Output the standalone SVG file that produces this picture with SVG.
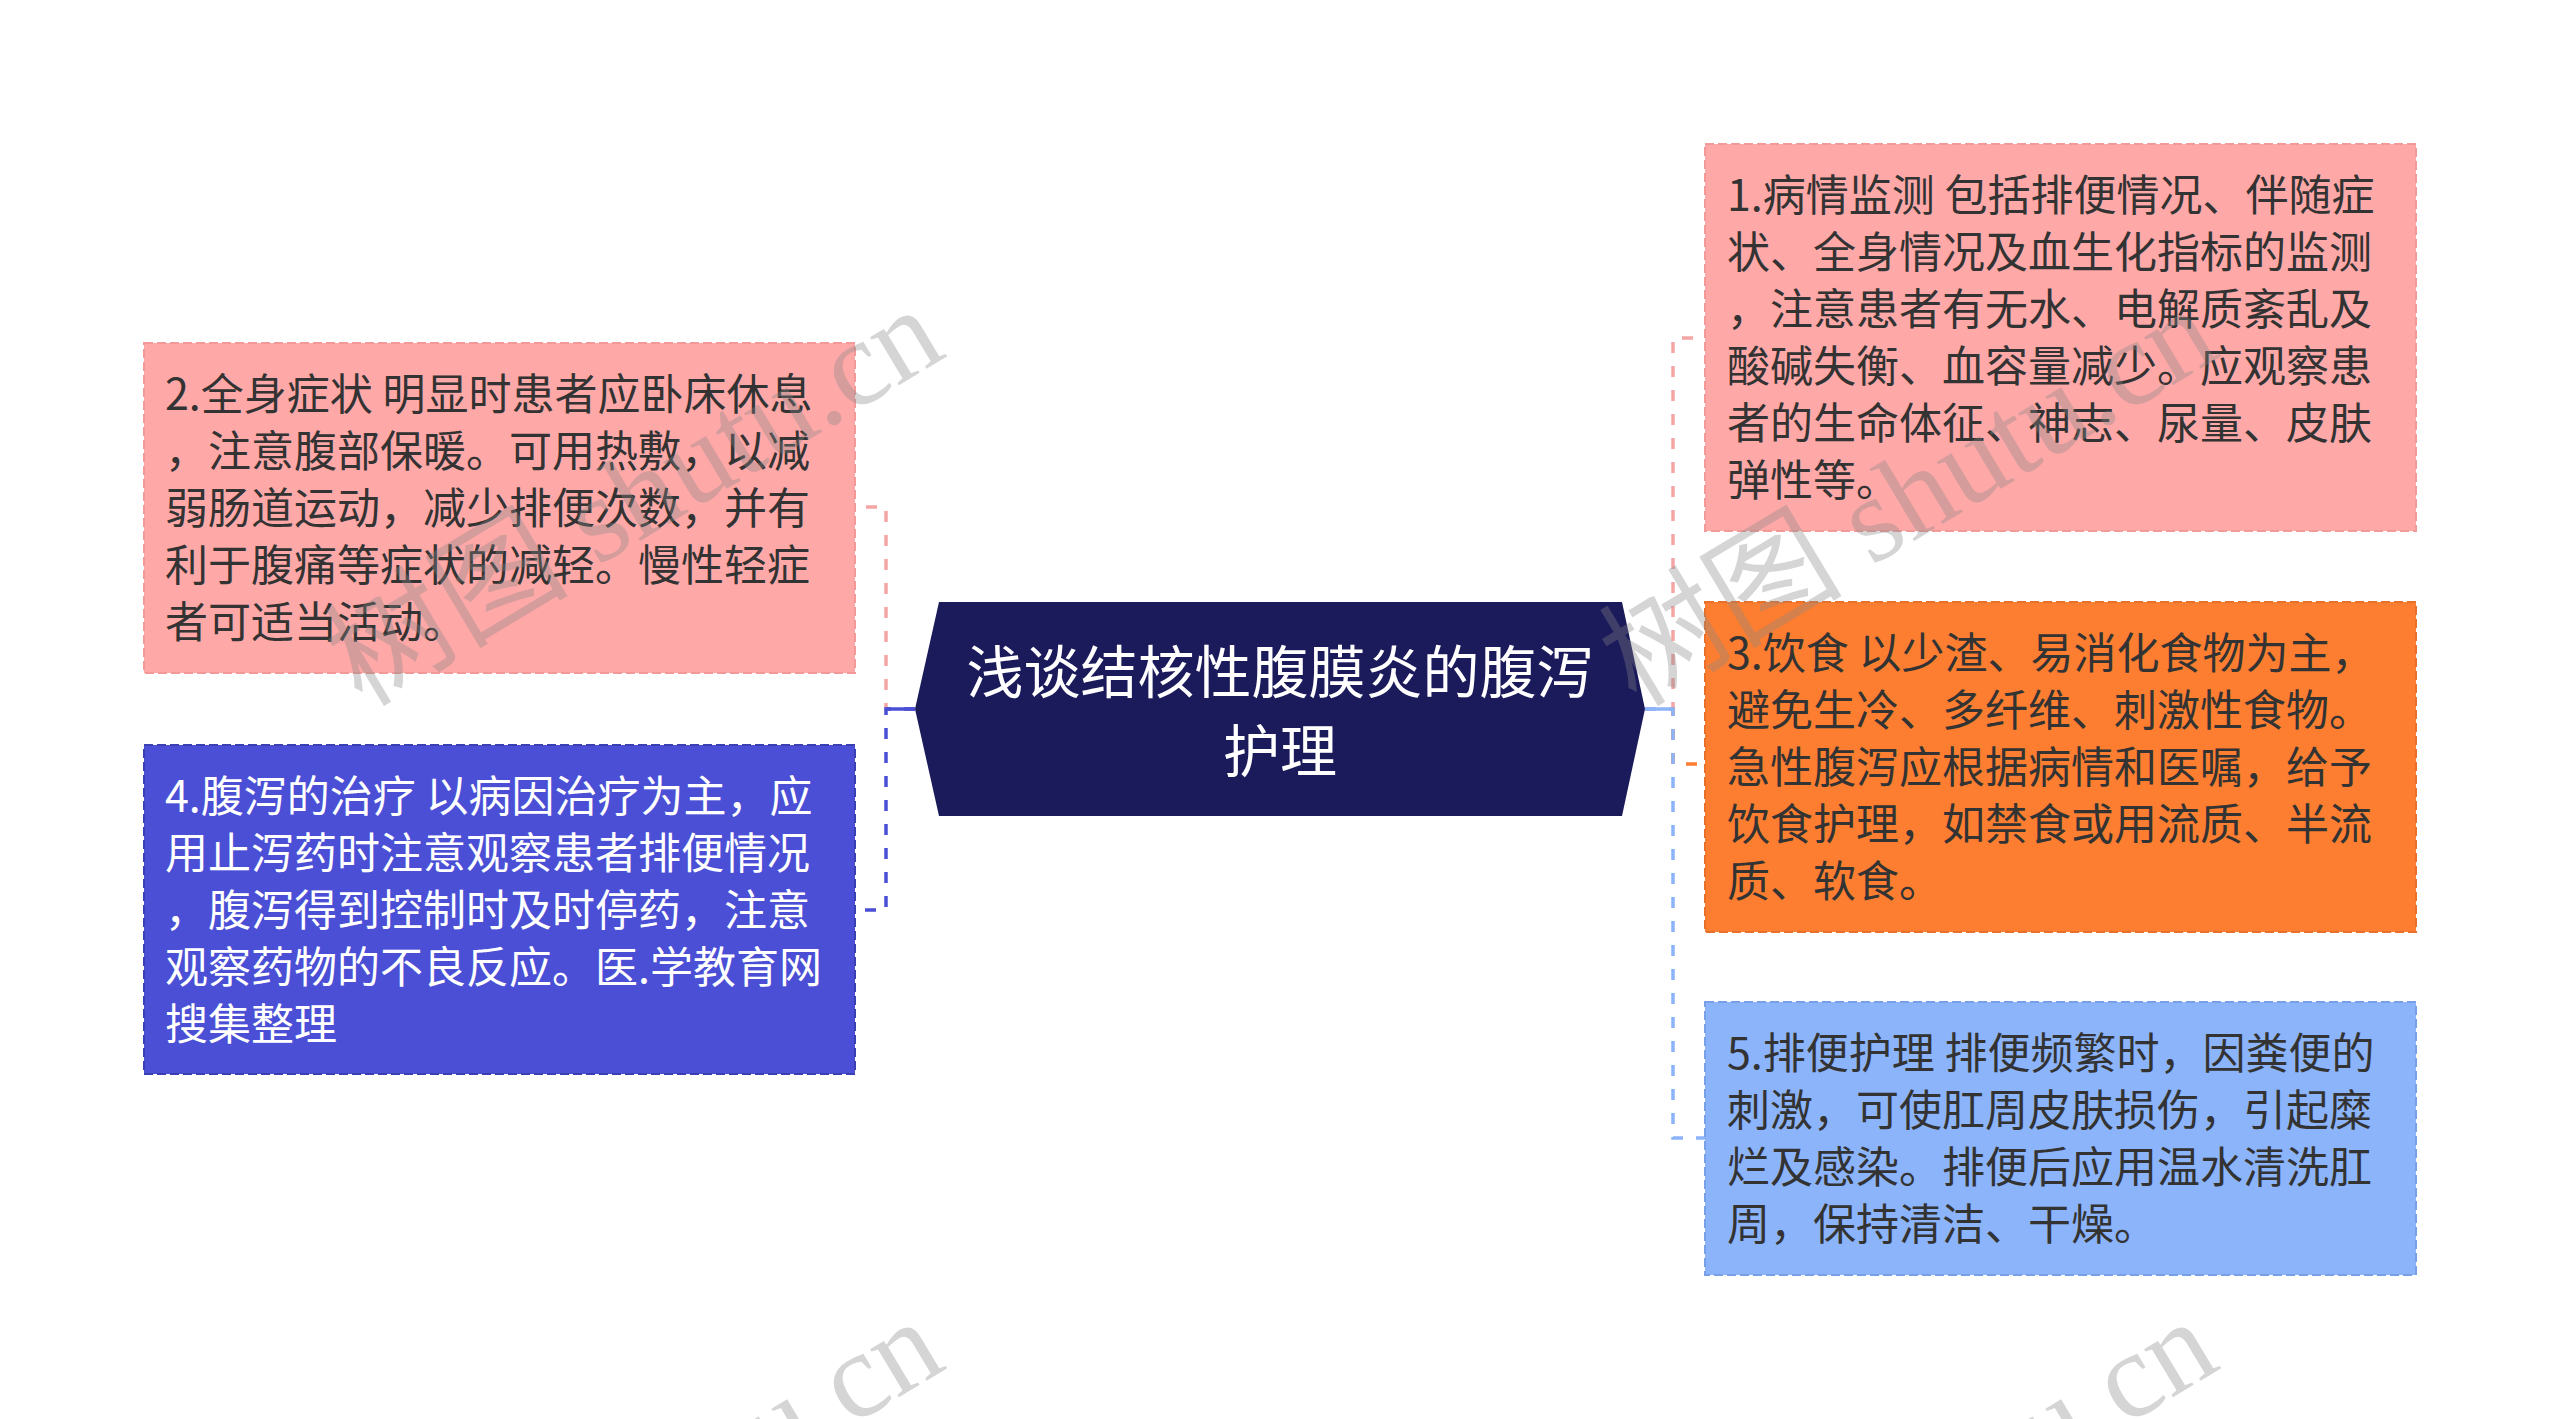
<svg xmlns="http://www.w3.org/2000/svg" width="2560" height="1419" viewBox="0 0 2560 1419">
<style>
.t{font-family:"Noto Sans CJK SC","Noto Sans",sans-serif;font-size:43px;fill:#333333}
.tw{fill:#ffffff}
.title{font-family:"Noto Sans CJK SC","Noto Sans",sans-serif;font-size:57px;fill:#ffffff;text-anchor:middle}
.box{stroke-width:2;stroke-dasharray:9 4}
.conn{fill:none;stroke-width:3.5;stroke-dasharray:11 13}
.wm{font-family:"Liberation Serif","Noto Sans CJK SC",serif;font-size:122px;fill:#888888;fill-opacity:0.35}
</style>
<rect width="2560" height="1419" fill="#ffffff"/>
<g id="connectors">
<path class="conn" stroke="#f4a6a6" d="M915,709 H886 V507 H855"/>
<path class="conn" stroke="#4a4fd6" d="M915,709 H886 V910 H855"/>
<line x1="915" y1="709" x2="886" y2="709" stroke="#4a4fd6" stroke-width="3.5"/>
<path class="conn" stroke="#f4a6a6" d="M1645,709 H1673 V338 H1705"/>
<path class="conn" stroke="#fd7e30" d="M1645,709 H1673 V764 H1705"/>
<path class="conn" stroke="#8cb4fa" d="M1645,709 H1673 V1138 H1705"/>
<line x1="1645" y1="709" x2="1673" y2="709" stroke="#8cb4fa" stroke-width="3.5"/>
</g>
<g id="center">
<polygon points="939,602 1622,602 1645,709 1622,816 939,816 915,709" fill="#1b1a5b"/>
<text class="title" x="1280" y="693">浅谈结核性腹膜炎的腹泻</text>
<text class="title" x="1280" y="772">护理</text>
</g>
<g id="node1">
<rect class="box" x="1705" y="144" width="711" height="387" fill="#ffa8a8" stroke="#f29a9a"/>
<text class="t" x="1727" y="211">1.病情监测 包括排便情况、伴随症</text>
<text class="t" x="1727" y="268">状、全身情况及血生化指标的监测</text>
<text class="t" x="1727" y="325">，注意患者有无水、电解质紊乱及</text>
<text class="t" x="1727" y="382">酸碱失衡、血容量减少。应观察患</text>
<text class="t" x="1727" y="439">者的生命体征、神志、尿量、皮肤</text>
<text class="t" x="1727" y="496">弹性等。</text>
</g>
<g id="node2">
<rect class="box" x="144" y="343" width="711" height="330" fill="#ffa8a8" stroke="#f29a9a"/>
<text class="t" x="165" y="410">2.全身症状 明显时患者应卧床休息</text>
<text class="t" x="165" y="467">，注意腹部保暖。可用热敷，以减</text>
<text class="t" x="165" y="524">弱肠道运动，减少排便次数，并有</text>
<text class="t" x="165" y="581">利于腹痛等症状的减轻。慢性轻症</text>
<text class="t" x="165" y="638">者可适当活动。</text>
</g>
<g id="node3">
<rect class="box" x="1705" y="602" width="711" height="330" fill="#fd7e30" stroke="#e8702a"/>
<text class="t" x="1727" y="669">3.饮食 以少渣、易消化食物为主，</text>
<text class="t" x="1727" y="726">避免生冷、多纤维、刺激性食物。</text>
<text class="t" x="1727" y="783">急性腹泻应根据病情和医嘱，给予</text>
<text class="t" x="1727" y="840">饮食护理，如禁食或用流质、半流</text>
<text class="t" x="1727" y="897">质、软食。</text>
</g>
<g id="node4">
<rect class="box" x="144" y="745" width="711" height="329" fill="#4a4fd6" stroke="#3b3fb4"/>
<text class="t tw" x="165" y="812">4.腹泻的治疗 以病因治疗为主，应</text>
<text class="t tw" x="165" y="869">用止泻药时注意观察患者排便情况</text>
<text class="t tw" x="165" y="926">，腹泻得到控制时及时停药，注意</text>
<text class="t tw" x="165" y="983">观察药物的不良反应。医.学教育网</text>
<text class="t tw" x="165" y="1040">搜集整理</text>
</g>
<g id="node5">
<rect class="box" x="1705" y="1002" width="711" height="273" fill="#8cb4fa" stroke="#78a0e6"/>
<text class="t" x="1727" y="1069">5.排便护理 排便频繁时，因粪便的</text>
<text class="t" x="1727" y="1126">刺激，可使肛周皮肤损伤，引起糜</text>
<text class="t" x="1727" y="1183">烂及感染。排便后应用温水清洗肛</text>
<text class="t" x="1727" y="1240">周，保持清洁、干燥。</text>
</g>
<g id="watermark">
<text class="wm" transform="translate(362,708) rotate(-31)">树图 shutu.cn</text>
<text class="wm" transform="translate(1636,708) rotate(-31)">树图 shutu.cn</text>
<text class="wm" transform="translate(362,1720) rotate(-31)">树图 shutu.cn</text>
<text class="wm" transform="translate(1636,1720) rotate(-31)">树图 shutu.cn</text>
</g>
</svg>
